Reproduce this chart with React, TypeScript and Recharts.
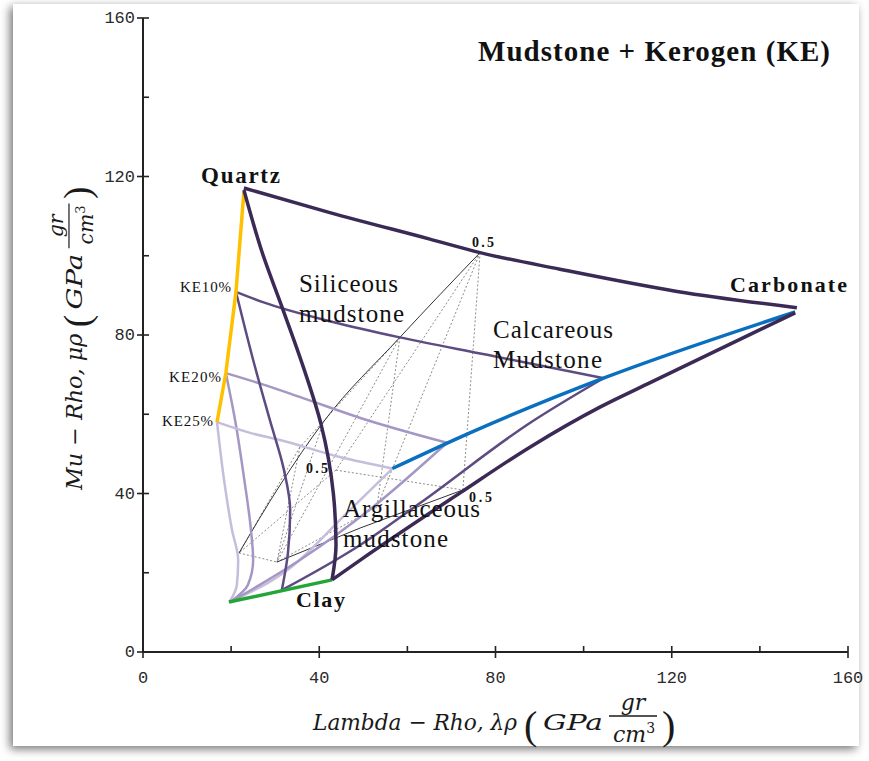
import React from "react";
import { LineChart, Line, XAxis, YAxis } from "recharts";

type Pt = { x: number; y: number };

// axis ticks
const axisTicks = [0, 20, 40, 60, 80, 100, 120, 140, 160];
const labelTicks = [0, 40, 80, 120, 160];

// boundary curves
const quartzCarbonate: Pt[] = [
  { x: 22.9, y: 117.1 }, { x: 42.4, y: 110.9 }, { x: 65.1, y: 104.2 }, { x: 76.5, y: 100.8 },
  { x: 94.6, y: 96.6 }, { x: 121.2, y: 91.0 }, { x: 148.4, y: 86.9 },
];
const quartzClay: Pt[] = [
  { x: 22.9, y: 116.6 }, { x: 27.0, y: 101.0 }, { x: 31.8, y: 86.3 }, { x: 36.6, y: 71.2 },
  { x: 40.4, y: 57.5 }, { x: 43.2, y: 40.0 }, { x: 43.8, y: 27.0 }, { x: 42.9, y: 18.2 },
];
const clayCarbonate: Pt[] = [
  { x: 42.9, y: 18.2 }, { x: 49.3, y: 23.2 }, { x: 71.9, y: 40.1 }, { x: 87.8, y: 51.7 },
  { x: 103.7, y: 61.8 }, { x: 114.4, y: 67.6 }, { x: 148.0, y: 85.6 },
];
const kerogenCarbonate: Pt[] = [
  { x: 56.6, y: 46.3 }, { x: 74.2, y: 55.3 }, { x: 104.5, y: 69.1 }, { x: 148.0, y: 85.8 },
];
const quartzKerogen: Pt[] = [
  { x: 22.9, y: 116.1 }, { x: 21.1, y: 90.9 }, { x: 18.8, y: 70.4 }, { x: 16.8, y: 58.0 },
];
const clayEdge: Pt[] = [{ x: 19.5, y: 12.6 }, { x: 42.9, y: 18.2 }];

// kerogen 10 / 20 / 25 % curves
const ke10Across: Pt[] = [
  { x: 21.1, y: 90.9 }, { x: 27.2, y: 88.3 }, { x: 43.1, y: 83.3 }, { x: 58.3, y: 79.4 },
  { x: 78.1, y: 75.0 }, { x: 104.5, y: 69.1 },
];
const ke20Across: Pt[] = [
  { x: 18.8, y: 70.4 }, { x: 27.0, y: 67.6 }, { x: 36.0, y: 64.2 }, { x: 49.5, y: 59.0 }, { x: 69.0, y: 52.8 },
];
const ke25Across: Pt[] = [
  { x: 16.8, y: 58.0 }, { x: 24.3, y: 55.3 }, { x: 31.1, y: 53.5 }, { x: 44.7, y: 49.2 }, { x: 56.6, y: 46.3 },
];
const ke10Down: Pt[] = [
  { x: 21.1, y: 90.9 }, { x: 25.0, y: 73.7 }, { x: 28.8, y: 58.5 }, { x: 32.0, y: 45.9 },
  { x: 33.4, y: 35.8 }, { x: 32.9, y: 25.0 }, { x: 31.5, y: 15.6 },
];
const ke20Down: Pt[] = [
  { x: 18.8, y: 70.4 }, { x: 20.9, y: 58.5 }, { x: 23.0, y: 43.4 }, { x: 24.5, y: 30.8 },
  { x: 25.0, y: 23.2 }, { x: 23.8, y: 16.9 }, { x: 19.8, y: 12.6 },
];
const ke25Down: Pt[] = [
  { x: 16.8, y: 58.0 }, { x: 18.4, y: 43.4 }, { x: 20.2, y: 30.8 }, { x: 21.6, y: 23.2 },
  { x: 21.3, y: 16.9 }, { x: 19.6, y: 12.6 },
];
const ke10Up: Pt[] = [
  { x: 31.5, y: 15.6 }, { x: 49.3, y: 27.0 }, { x: 62.9, y: 37.6 }, { x: 87.8, y: 57.8 }, { x: 104.5, y: 69.1 },
];
const ke20Up: Pt[] = [
  { x: 19.8, y: 12.6 }, { x: 35.6, y: 23.2 }, { x: 52.2, y: 36.6 }, { x: 69.0, y: 52.8 },
];
const ke25Up: Pt[] = [
  { x: 19.6, y: 12.6 }, { x: 33.4, y: 21.2 }, { x: 46.3, y: 35.1 }, { x: 56.6, y: 46.3 },
];

// 0.5 guide lines
const halfTop: Pt[] = [
  { x: 76.5, y: 100.8 }, { x: 58.3, y: 79.4 }, { x: 40.9, y: 58.0 }, { x: 31.1, y: 42.1 }, { x: 21.8, y: 25.0 },
];
const halfBottom: Pt[] = [{ x: 72.6, y: 40.9 }, { x: 49.3, y: 31.3 }, { x: 30.4, y: 22.7 }];
const dotted: Pt[][] = [
  [{ x: 76.5, y: 100.8 }, { x: 72.6, y: 40.9 }],
  [{ x: 76.5, y: 100.8 }, { x: 43.8, y: 45.9 }],
  [{ x: 76.5, y: 100.8 }, { x: 53.1, y: 36.6 }],
  [{ x: 58.3, y: 79.4 }, { x: 53.1, y: 36.6 }],
  [{ x: 58.3, y: 79.4 }, { x: 35.6, y: 51.7 }],
  [{ x: 58.3, y: 79.4 }, { x: 30.4, y: 22.7 }],
  [{ x: 43.8, y: 45.9 }, { x: 72.6, y: 40.9 }],
  [{ x: 43.8, y: 45.9 }, { x: 21.8, y: 25.0 }],
  [{ x: 21.8, y: 25.0 }, { x: 30.4, y: 22.7 }],
  [{ x: 53.1, y: 36.6 }, { x: 30.4, y: 22.7 }],
  [{ x: 35.6, y: 51.7 }, { x: 21.8, y: 25.0 }],
  [{ x: 35.6, y: 51.7 }, { x: 30.4, y: 22.7 }],
  [{ x: 40.9, y: 58.0 }, { x: 30.4, y: 22.7 }],
];

const DARK = "#3b2a55";
const MID = "#5d4b82";
const LIGHT = "#a497c5";
const LIGHTER = "#c6bddb";

const series = [
  ...dotted.map((d) => ({ data: d, color: "#8c8c8c", w: 1, dash: "2 2", curve: "linear" })),
  { data: halfTop, color: "#333", w: 1, dash: undefined, curve: "monotoneX" },
  { data: halfBottom, color: "#333", w: 1, dash: undefined, curve: "linear" },
  { data: ke25Up, color: LIGHTER, w: 2.5, dash: undefined, curve: "monotoneX" },
  { data: ke20Up, color: LIGHT, w: 2.5, dash: undefined, curve: "monotoneX" },
  { data: ke25Down, color: LIGHTER, w: 2.5, dash: undefined, curve: "monotoneY" },
  { data: ke20Down, color: LIGHT, w: 2.5, dash: undefined, curve: "monotoneY" },
  { data: ke25Across, color: LIGHTER, w: 2.5, dash: undefined, curve: "monotoneX" },
  { data: ke20Across, color: LIGHT, w: 2.5, dash: undefined, curve: "monotoneX" },
  { data: ke10Up, color: MID, w: 2.5, dash: undefined, curve: "monotoneX" },
  { data: ke10Down, color: MID, w: 2.5, dash: undefined, curve: "monotoneY" },
  { data: ke10Across, color: MID, w: 2.5, dash: undefined, curve: "monotoneX" },
  { data: kerogenCarbonate, color: "#0a6fbf", w: 3.5, dash: undefined, curve: "monotoneX" },
  { data: quartzKerogen, color: "#ffc000", w: 3.5, dash: undefined, curve: "linear" },
  { data: clayEdge, color: "#23a537", w: 3.5, dash: undefined, curve: "linear" },
  { data: quartzClay, color: DARK, w: 3.5, dash: undefined, curve: "monotoneY" },
  { data: clayCarbonate, color: DARK, w: 3.5, dash: undefined, curve: "monotoneX" },
  { data: quartzCarbonate, color: DARK, w: 3.5, dash: undefined, curve: "monotoneX" },
];

const TICK_FONT = "'Liberation Mono', monospace";
const SERIF = "'Liberation Serif', 'Times New Roman', serif";
const MATH = "'DejaVu Serif', serif";

const XTick = (props: any) => {
  const { x, y, payload } = props;
  const major = labelTicks.includes(payload.value);
  return (
    <g>
      <line x1={x} x2={x} y1={y - 6} y2={major ? y + 6 : y} stroke="#222" strokeWidth={1.6} />
      {major && (
        <text x={x} y={y + 31} textAnchor="middle" fontFamily={TICK_FONT} fontSize={17} fill="#2a2a2a">
          {payload.value}
        </text>
      )}
    </g>
  );
};

const YTick = (props: any) => {
  const { x, y, payload } = props;
  const major = labelTicks.includes(payload.value);
  return (
    <g>
      <line x1={major ? x - 6 : x} x2={x + 6} y1={y} y2={y} stroke="#222" strokeWidth={1.6} />
      {major && (
        <text x={x - 8} y={y + 5} textAnchor="end" fontFamily={TICK_FONT} fontSize={17} fill="#2a2a2a">
          {payload.value}
        </text>
      )}
    </g>
  );
};

function MathTitle({ main, mainLen }: { main: string; mainLen: number }) {
  const a = mainLen + 4;
  return (
    <g fontFamily={MATH} fontStyle="italic" fill="#1a1a1a">
      <text x={0} y={0} fontSize={23} textLength={mainLen} lengthAdjust="spacingAndGlyphs">{main}</text>
      <text x={a + 3} y={9} fontSize={40} fontStyle="normal" fontFamily={SERIF}>(</text>
      <text x={a + 22} y={0} fontSize={23} textLength={60} lengthAdjust="spacingAndGlyphs">GPa</text>
      <line x1={a + 88} x2={a + 136} y1={-14} y2={-14} stroke="#1a1a1a" strokeWidth={1.3} />
      <text x={a + 112} y={-20} fontSize={22} textAnchor="middle">gr</text>
      <text x={a + 92} y={12} fontSize={22}>
        cm<tspan fontSize={14} dy={-9} fontStyle="normal">3</tspan>
      </text>
      <text x={a + 141} y={9} fontSize={40} fontStyle="normal" fontFamily={SERIF}>)</text>
    </g>
  );
}

function Annotations() {
  const t = (x: number, y: number, s: string, size: number, len: number, bold = false) => (
    <text x={x} y={y} fontFamily={SERIF} fontSize={size} fontWeight={bold ? 700 : 400}
      textLength={len} lengthAdjust="spacing" fill="#111">{s}</text>
  );
  return (
    <svg width={869} height={761} style={{ position: "absolute", left: 0, top: 0, pointerEvents: "none" }}>
      {t(478, 61, "Mudstone + Kerogen (KE)", 29, 352, true)}
      {t(201, 183, "Quartz", 23, 79, true)}
      {t(730, 292, "Carbonate", 22, 117, true)}
      {t(296, 607, "Clay", 22, 49, true)}
      {t(299, 292, "Siliceous", 25, 99)}
      {t(299, 322, "mudstone", 25, 105)}
      {t(493, 338, "Calcareous", 25, 120)}
      {t(493, 368, "Mudstone", 25, 109)}
      {t(343, 517, "Argillaceous", 25, 137)}
      {t(343, 547, "mudstone", 25, 105)}
      {t(180, 292, "KE10%", 15, 51)}
      {t(169, 382, "KE20%", 15, 52)}
      {t(162, 426, "KE25%", 15, 51)}
      {t(472, 247, "0.5", 14, 22, true)}
      {t(306, 473, "0.5", 14, 22, true)}
      {t(469, 502, "0.5", 14, 23, true)}
      <g transform="translate(313,730)">
        <MathTitle main="Lambda − Rho, λρ" mainLen={204} />
      </g>
      <g transform="translate(82,490) rotate(-90) scale(0.93)">
        <MathTitle main="Mu − Rho, μρ" mainLen={168} />
      </g>
    </svg>
  );
}

export default function App() {
  return (
    <div style={{ position: "absolute", left: 0, top: 0, width: 869, height: 761, background: "#fff", overflow: "hidden" }}>
      <div style={{ position: "absolute", left: 13, top: 4, width: 846, height: 742, background: "#fff",
        boxShadow: "-3px 3px 9px rgba(0,0,0,0.55)" }} />
      <div style={{ position: "absolute", left: 0, top: 0 }}>
        <LineChart width={869} height={761} margin={{ top: 18, right: 21, bottom: 79, left: 83 }}>
          <XAxis type="number" dataKey="x" domain={[0, 160]} ticks={axisTicks} interval={0}
            allowDataOverflow height={30} tickSize={0} tickMargin={0} tickLine={false}
            axisLine={{ stroke: "#222", strokeWidth: 2 }} tick={XTick} />
          <YAxis type="number" dataKey="y" domain={[0, 160]} ticks={axisTicks} interval={0}
            allowDataOverflow width={60} tickSize={0} tickMargin={0} tickLine={false}
            axisLine={{ stroke: "#222", strokeWidth: 2 }} tick={YTick} />
          {series.map((s, i) => (
            <Line key={i} data={s.data} dataKey="y" type={s.curve as any} stroke={s.color}
              strokeWidth={s.w} strokeDasharray={s.dash} dot={false} activeDot={false}
              isAnimationActive={false} legendType="none" />
          ))}
        </LineChart>
      </div>
      <Annotations />
    </div>
  );
}
